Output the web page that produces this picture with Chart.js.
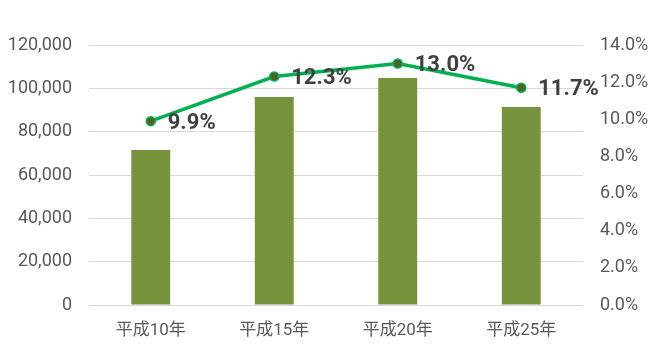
<!DOCTYPE html>
<html>
<head>
<meta charset="utf-8">
<script src="https://cdn.jsdelivr.net/npm/chart.js@4.4.0/dist/chart.umd.min.js"></script>
<style>
  html, body { margin: 0; padding: 0; background: #fff; }
  #wrap { width: 659px; height: 354px; }
</style>
</head>
<body>
<div id="wrap"><canvas id="barChart" width="659" height="354"></canvas></div>
<script>
var years   = ['平成10年', '平成15年', '平成20年', '平成25年'];
var amounts = [71500, 96000, 104800, 91400];
var rates   = [9.9, 12.3, 13.0, 11.7];

var tickFont = { family: "Roboto, 'Noto Sans CJK JP', sans-serif", size: 17 };

// draws the % labels to the right of each point
var rateLabels = {
  id: 'rateLabels',
  afterDatasetsDraw: function(chart) {
    var ctx = chart.ctx;
    var meta = chart.getDatasetMeta(1);
    ctx.save();
    ctx.font = "bold 22px Roboto, 'DejaVu Sans', sans-serif";
    ctx.fillStyle = '#404040';
    ctx.textAlign = 'left';
    ctx.textBaseline = 'middle';
    meta.data.forEach(function(pt, i) {
      ctx.fillText(rates[i].toFixed(1) + '%', pt.x + 17, pt.y + 2);
    });
    ctx.restore();
  }
};

var ctx = document.getElementById('barChart').getContext('2d');
new Chart(ctx, {
  type: 'bar',
  data: {
    labels: years,
    datasets: [
      {
        type: 'bar',
        data: amounts,
        backgroundColor: '#77933c',
        barPercentage: 0.63,
        categoryPercentage: 0.5,
        yAxisID: 'y',
        order: 2
      },
      {
        type: 'line',
        data: rates,
        borderColor: '#00b050',
        borderWidth: 3.5,
        pointRadius: 4.5,
        pointBackgroundColor: '#4f6228',
        pointBorderColor: '#00b050',
        pointBorderWidth: 1.5,
        tension: 0,
        yAxisID: 'y1',
        order: 1
      }
    ]
  },
  options: {
    responsive: false,
    animation: false,
    layout: { padding: { top: 45, left: 0, right: 0, bottom: 0 } },
    plugins: { legend: { display: false }, tooltip: { enabled: false } },
    scales: {
      x: {
        grid: { display: false },
        border: { display: false },
        ticks: { color: '#595959', font: tickFont, padding: 8 },
        afterFit: function(s) { s.height = 49; }
      },
      y: {
        position: 'left',
        min: 0, max: 120000,
        ticks: {
          stepSize: 20000, color: '#595959', font: { family: 'Roboto, sans-serif', size: 18 }, padding: 17,
          callback: function(v) { return v.toLocaleString('en-US'); }
        },
        grid: { color: '#d9d9d9', drawTicks: false },
        border: { display: false },
        afterFit: function(s) { s.width = 89; }
      },
      y1: {
        position: 'right',
        min: 0, max: 14,
        ticks: {
          stepSize: 2, color: '#595959', font: { family: 'Roboto, sans-serif', size: 18 }, padding: 17,
          callback: function(v) { return v.toFixed(1) + '%'; }
        },
        grid: { display: false, drawTicks: false },
        border: { display: false },
        afterFit: function(s) { s.width = 76; }
      }
    }
  },
  plugins: [rateLabels]
});
</script>
</body>
</html>
